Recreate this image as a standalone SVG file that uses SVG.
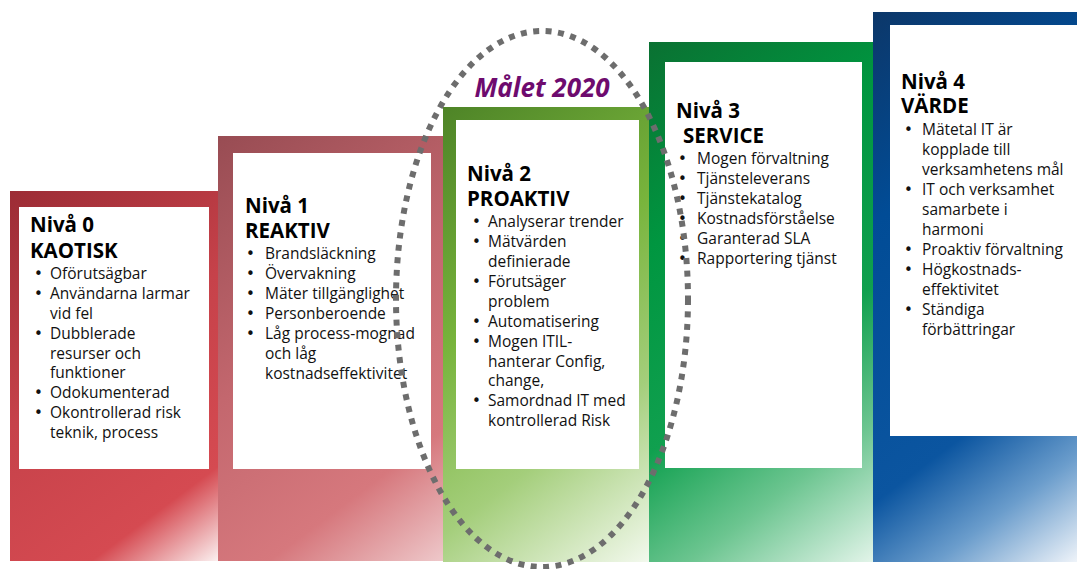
<svg xmlns="http://www.w3.org/2000/svg" width="1077" height="569" viewBox="0 0 1077 569">
<defs>
<linearGradient id="g0" gradientUnits="userSpaceOnUse" x1="10" y1="191" x2="262" y2="528">
<stop offset="0" stop-color="#9c2c35"/><stop offset="0.45" stop-color="#c6424a"/><stop offset="0.82" stop-color="#d54a51"/><stop offset="1" stop-color="#fbf0f0"/>
</linearGradient>
<linearGradient id="g1" gradientUnits="userSpaceOnUse" x1="218" y1="136" x2="503" y2="516">
<stop offset="0" stop-color="#984c53"/><stop offset="0.45" stop-color="#c3676e"/><stop offset="0.78" stop-color="#d6787d"/><stop offset="1" stop-color="#eec8ca"/>
</linearGradient>
<linearGradient id="g2" gradientUnits="userSpaceOnUse" x1="443" y1="107" x2="736" y2="497">
<stop offset="0" stop-color="#4e8427"/><stop offset="0.4" stop-color="#78b43c"/><stop offset="0.7" stop-color="#a4ce7b"/><stop offset="1" stop-color="#f3f9ee"/>
</linearGradient>
<linearGradient id="g3" gradientUnits="userSpaceOnUse" x1="649" y1="42" x2="979" y2="482">
<stop offset="0" stop-color="#0a7132"/><stop offset="0.3" stop-color="#009640"/><stop offset="0.6" stop-color="#10a04f"/><stop offset="0.8" stop-color="#6cc590"/><stop offset="1" stop-color="#e2f4e9"/>
</linearGradient>
<linearGradient id="g4" gradientUnits="userSpaceOnUse" x1="873" y1="12" x2="1210" y2="462">
<stop offset="0" stop-color="#0c3769"/><stop offset="0.3" stop-color="#014c96"/><stop offset="0.7" stop-color="#0b55a0"/><stop offset="0.85" stop-color="#6b9dcc"/><stop offset="1" stop-color="#eef3f9"/>
</linearGradient>
</defs>
<style>
.box{fill:#ffffff}
.t{font-family:"Open Sans","Noto Sans","DejaVu Sans",sans-serif;font-weight:bold;font-size:20.5px;fill:#000}
.b{font-family:"Open Sans","Noto Sans","DejaVu Sans",sans-serif;font-size:15.5px;fill:#111}
.d{font-family:"DejaVu Sans","Open Sans",sans-serif;font-size:15px;fill:#111}
.goal{font-family:"Open Sans","Noto Sans","DejaVu Sans",sans-serif;font-weight:bold;font-style:italic;font-size:26px;fill:#6e0b6e}
.ell{fill:none;stroke:#6d6d6d;stroke-width:6;stroke-dasharray:6 6.5}
</style>
<rect width="1077" height="569" fill="#ffffff"/>

<g id="step0">
<rect x="10" y="191" width="208" height="370" fill="url(#g0)"/>
<rect class="box" x="19" y="207" width="190" height="262"/>
<text class="t" x="30" y="232">Nivå 0</text>
<text class="t" x="30" y="258">KAOTISK</text>
<text class="d" x="34" y="279">•</text><text class="b" x="50" y="279">Oförutsägbar</text>
<text class="d" x="34" y="299">•</text><text class="b" x="50" y="299">Användarna larmar</text>
<text class="b" x="50" y="318.5">vid fel</text>
<text class="d" x="34" y="338.5">•</text><text class="b" x="50" y="338.5">Dubblerade</text>
<text class="b" x="50" y="358.5">resurser och</text>
<text class="b" x="50" y="378">funktioner</text>
<text class="d" x="34" y="398">•</text><text class="b" x="50" y="398">Odokumenterad</text>
<text class="d" x="34" y="418">•</text><text class="b" x="50" y="418">Okontrollerad risk</text>
<text class="b" x="50" y="438">teknik, process</text>
</g>

<g id="step1">
<rect x="218" y="136" width="225" height="425" fill="url(#g1)"/>
<rect class="box" x="233" y="153" width="198" height="316"/>
<text class="t" x="245" y="213">Nivå 1</text>
<text class="t" x="245" y="238">REAKTIV</text>
<text class="d" x="246" y="259">•</text><text class="b" x="265" y="259">Brandsläckning</text>
<text class="d" x="246" y="279">•</text><text class="b" x="265" y="279">Övervakning</text>
<text class="d" x="246" y="299">•</text><text class="b" x="265" y="299">Mäter tillgänglighet</text>
<text class="d" x="246" y="319">•</text><text class="b" x="265" y="319">Personberoende</text>
<text class="d" x="246" y="339">•</text><text class="b" x="265" y="339">Låg process-mognad</text>
<text class="b" x="265" y="359">och låg</text>
<text class="b" x="265" y="379">kostnadseffektivitet</text>
</g>

<g id="step2">
<rect x="443" y="107" width="206" height="455" fill="url(#g2)"/>
<rect class="box" x="456" y="120" width="183" height="349"/>
<text class="t" x="467" y="181">Nivå 2</text>
<text class="t" x="467" y="206">PROAKTIV</text>
<text class="d" x="472" y="227">•</text><text class="b" x="488" y="227">Analyserar trender</text>
<text class="d" x="472" y="247">•</text><text class="b" x="488" y="247">Mätvärden</text>
<text class="b" x="488" y="267">definierade</text>
<text class="d" x="472" y="287">•</text><text class="b" x="488" y="287">Förutsäger</text>
<text class="b" x="488" y="306.5">problem</text>
<text class="d" x="472" y="326.5">•</text><text class="b" x="488" y="326.5">Automatisering</text>
<text class="d" x="472" y="346.5">•</text><text class="b" x="488" y="346.5">Mogen ITIL-</text>
<text class="b" x="488" y="366.5">hanterar Config,</text>
<text class="b" x="488" y="386">change,</text>
<text class="d" x="472" y="406">•</text><text class="b" x="488" y="406">Samordnad IT med</text>
<text class="b" x="488" y="426">kontrollerad Risk</text>
</g>

<g id="step3">
<rect x="649" y="42" width="224" height="520" fill="url(#g3)"/>
<rect class="box" x="665" y="62" width="197" height="406"/>
<text class="t" x="676" y="118">Nivå 3</text>
<text class="t" x="683" y="143">SERVICE</text>
<text class="d" x="678" y="164">•</text><text class="b" x="697" y="164">Mogen förvaltning</text>
<text class="d" x="678" y="184">•</text><text class="b" x="697" y="184">Tjänsteleverans</text>
<text class="d" x="678" y="204">•</text><text class="b" x="697" y="204">Tjänstekatalog</text>
<text class="d" x="678" y="224">•</text><text class="b" x="697" y="224">Kostnadsförståelse</text>
<text class="d" x="678" y="244">•</text><text class="b" x="697" y="244">Garanterad SLA</text>
<text class="d" x="678" y="264">•</text><text class="b" x="697" y="264">Rapportering tjänst</text>
</g>

<g id="step4">
<rect x="873" y="12" width="204" height="550" fill="url(#g4)"/>
<rect class="box" x="890" y="25" width="187" height="411"/>
<text class="t" x="901" y="89">Nivå 4</text>
<text class="t" x="901" y="113">VÄRDE</text>
<text class="d" x="904" y="135">•</text><text class="b" x="922" y="135">Mätetal IT är</text>
<text class="b" x="922" y="155">kopplade till</text>
<text class="b" x="922" y="175">verksamhetens mål</text>
<text class="d" x="904" y="195">•</text><text class="b" x="922" y="195">IT och verksamhet</text>
<text class="b" x="922" y="215">samarbete i</text>
<text class="b" x="922" y="235">harmoni</text>
<text class="d" x="904" y="255">•</text><text class="b" x="922" y="255">Proaktiv förvaltning</text>
<text class="d" x="904" y="275">•</text><text class="b" x="922" y="275">Högkostnads-</text>
<text class="b" x="922" y="295">effektivitet</text>
<text class="d" x="904" y="315">•</text><text class="b" x="922" y="315">Ständiga</text>
<text class="b" x="922" y="335">förbättringar</text>
</g>

<g id="goal">
<ellipse class="ell" cx="542" cy="299" rx="146" ry="268"/>
<text class="goal" x="542" y="97" text-anchor="middle">Målet 2020</text>
</g>
</svg>
